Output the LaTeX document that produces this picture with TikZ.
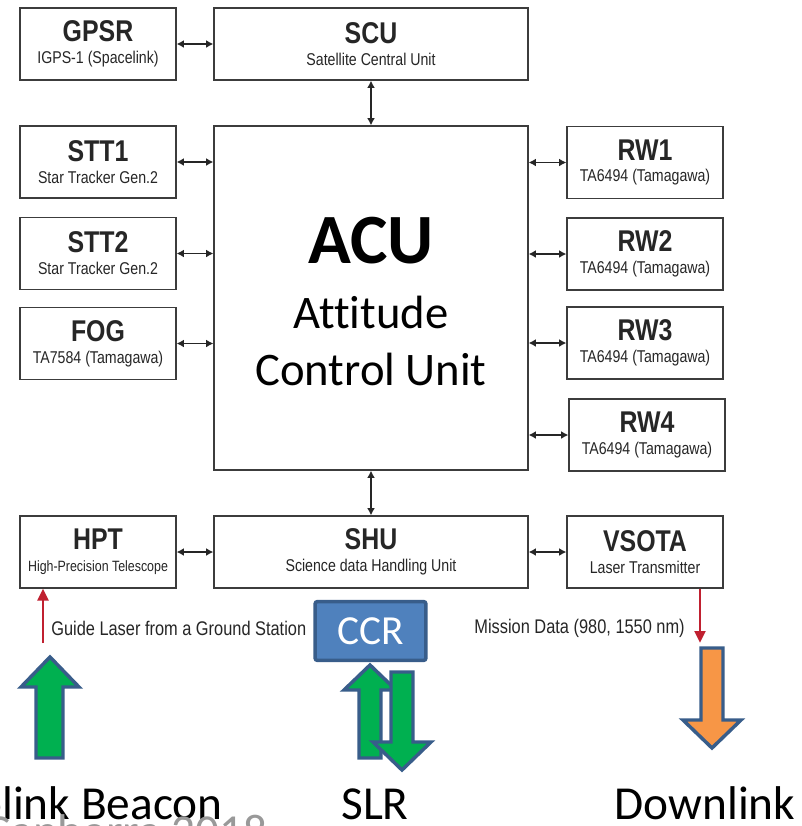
\documentclass[tikz,border=0pt]{standalone}
\usepackage{fontspec}
\setmainfont{Liberation Sans}
\newfontfamily\narrowfont[FakeStretch=0.83]{Liberation Sans}
\newfontfamily\calib[Ligatures=NoCommon]{Carlito}
\usetikzlibrary{arrows.meta}
\definecolor{boxline}{RGB}{60,60,60}
\definecolor{txt}{RGB}{38,38,38}
\definecolor{blueline}{RGB}{56,93,138}
\definecolor{ccrblue}{RGB}{79,129,189}
\definecolor{arrgreen}{RGB}{0,176,80}
\definecolor{arrorange}{RGB}{247,150,70}
\definecolor{laserred}{RGB}{192,32,48}
\newcommand{\blk}[2]{{\narrowfont\bfseries\fontsize{22.5}{27}\selectfont #1}\\[1.4pt]{#2}}
\tikzset{
  box/.style={draw=boxline, line width=0.9pt, fill=white, text=txt, align=center,
    minimum width=117pt, minimum height=54pt, inner sep=0pt,
    font=\narrowfont\fontsize{12.8}{15}\selectfont},
  widebox/.style={box, minimum width=235.5pt},
  link/.style={draw=black!85, line width=1.4pt, {Latex[length=5.5pt,width=6pt]}-{Latex[length=5.5pt,width=6pt]}},
  laser/.style={draw=laserred, line width=2.2pt, -{Triangle[length=9pt,width=8pt]}},
  note/.style={text=txt, font=\narrowfont\fontsize{14.8}{17}\selectfont, inner sep=0pt},
  blockarrow/.style={draw=blueline, line width=2.6pt, line join=miter},
  big/.style={font=\calib\fontsize{35.5}{40}\selectfont, inner sep=0pt}
}
\begin{document}
\begin{tikzpicture}[x=0.75pt,y=-0.75pt]
\path[use as bounding box, clip] (0,0) rectangle (802,826);
\fill[white] (0,0) rectangle (802,826);

\node[box] (gpsr) at (98,44) {\blk{GPSR}{IGPS-1 (Spacelink)}};
\node[widebox] (scu) at (371,44) {\blk{SCU}{Satellite Central Unit}};
\node[widebox, minimum height=258pt] (acu) at (371,298) {};
\node[box] (stt1) at (98,162) {\blk{STT1}{Star Tracker Gen.2}};
\node[box] (stt2) at (98,253.5) {\blk{STT2}{Star Tracker Gen.2}};
\node[box] (fog) at (98,343.5) {\blk{FOG}{TA7584 (Tamagawa)}};
\node[box] (rw1) at (645,162.5) {\blk{RW1}{TA6494 (Tamagawa)}};
\node[box] (rw2) at (645,254) {\blk{RW2}{TA6494 (Tamagawa)}};
\node[box] (rw3) at (645,343) {\blk{RW3}{TA6494 (Tamagawa)}};
\node[box] (rw4) at (647,435) {\blk{RW4}{TA6494 (Tamagawa)}};
\node[box] (hpt) at (98,552) {\blk{HPT}{\fontsize{11.2}{13}\selectfont High-Precision Telescope}};
\node[widebox] (shu) at (371,552) {\blk{SHU}{Science data Handling Unit}};
\node[box] (vsota) at (645,552) {\blk{VSOTA}{Laser Transmitter}};

\node[anchor=base, font=\calib\bfseries\fontsize{53}{60}\selectfont, inner sep=0pt] (acutitle) at (371,263) {ACU};
\node[anchor=base, font=\calib\fontsize{35}{42}\selectfont, inner sep=0pt] (acuname1) at (371,328) {Attitude};
\node[anchor=base, font=\calib\fontsize{35}{42}\selectfont, inner sep=0pt] (acuname2) at (371,385) {Control Unit};

\draw[link] (gpsr.east) -- (scu.west |- gpsr.east);
\draw[link] (scu.south) -- (acu.north);
\draw[link] (acu.south) -- (shu.north);
\foreach \n in {stt1,stt2,fog}
  \draw[link] (\n.east) -- (acu.west |- \n.east);
\foreach \n in {rw1,rw2,rw3,rw4}
  \draw[link] (acu.east |- \n.west) -- (\n.west);
\draw[link] (hpt.east) -- (shu.west |- hpt.east);
\draw[link] (shu.east) -- (vsota.west |- shu.east);

\coordinate (guide) at (43,643);
\coordinate (mission) at (700,643);
\draw[laser] (guide) -- (guide |- hpt.south);
\draw[laser] (mission |- vsota.south) -- (mission);
\node[note, anchor=west] (guidetext) at (51,628) {Guide Laser from a Ground Station};
\node[note, anchor=east] (missiontext) at (685,628) {Mission Data (980, 1550 nm)};

\node[draw=blueline, line width=2.6pt, fill=ccrblue, rounded corners=1.5pt,
  minimum width=83pt, minimum height=44pt, inner sep=0pt, text=white,
  font=\calib\fontsize{31}{36}\selectfont] (ccr) at (370.5,631) {CCR};

\draw[blockarrow, fill=arrgreen] (36,758) -- (36,687) -- (21,687) -- (50,657) -- (79,687) -- (63,687) -- (63,758) -- cycle;
\draw[blockarrow, fill=arrgreen] (359,758) -- (359,690) -- (344,690) -- (370,665) -- (396,690) -- (381,690) -- (381,758) -- cycle;
\draw[blockarrow, fill=arrgreen] (391,672) -- (391,742) -- (373,742) -- (402,770) -- (431,742) -- (413,742) -- (413,672) -- cycle;
\draw[blockarrow, fill=arrorange] (701,648) -- (701,720) -- (683,720) -- (712,748) -- (741,720) -- (723,720) -- (723,648) -- cycle;

\node[big, anchor=base west] (uplink) at (2,819) {\llap{Up}link Beacon};
\node[big, anchor=base] (slr) at (375,819) {SLR};
\node[big, anchor=base] (downlink) at (705,819) {Downlink};
\node[big, anchor=base east, text=black!40] (place) at (268,847) {Canberra 2018};
\end{tikzpicture}
\end{document}
